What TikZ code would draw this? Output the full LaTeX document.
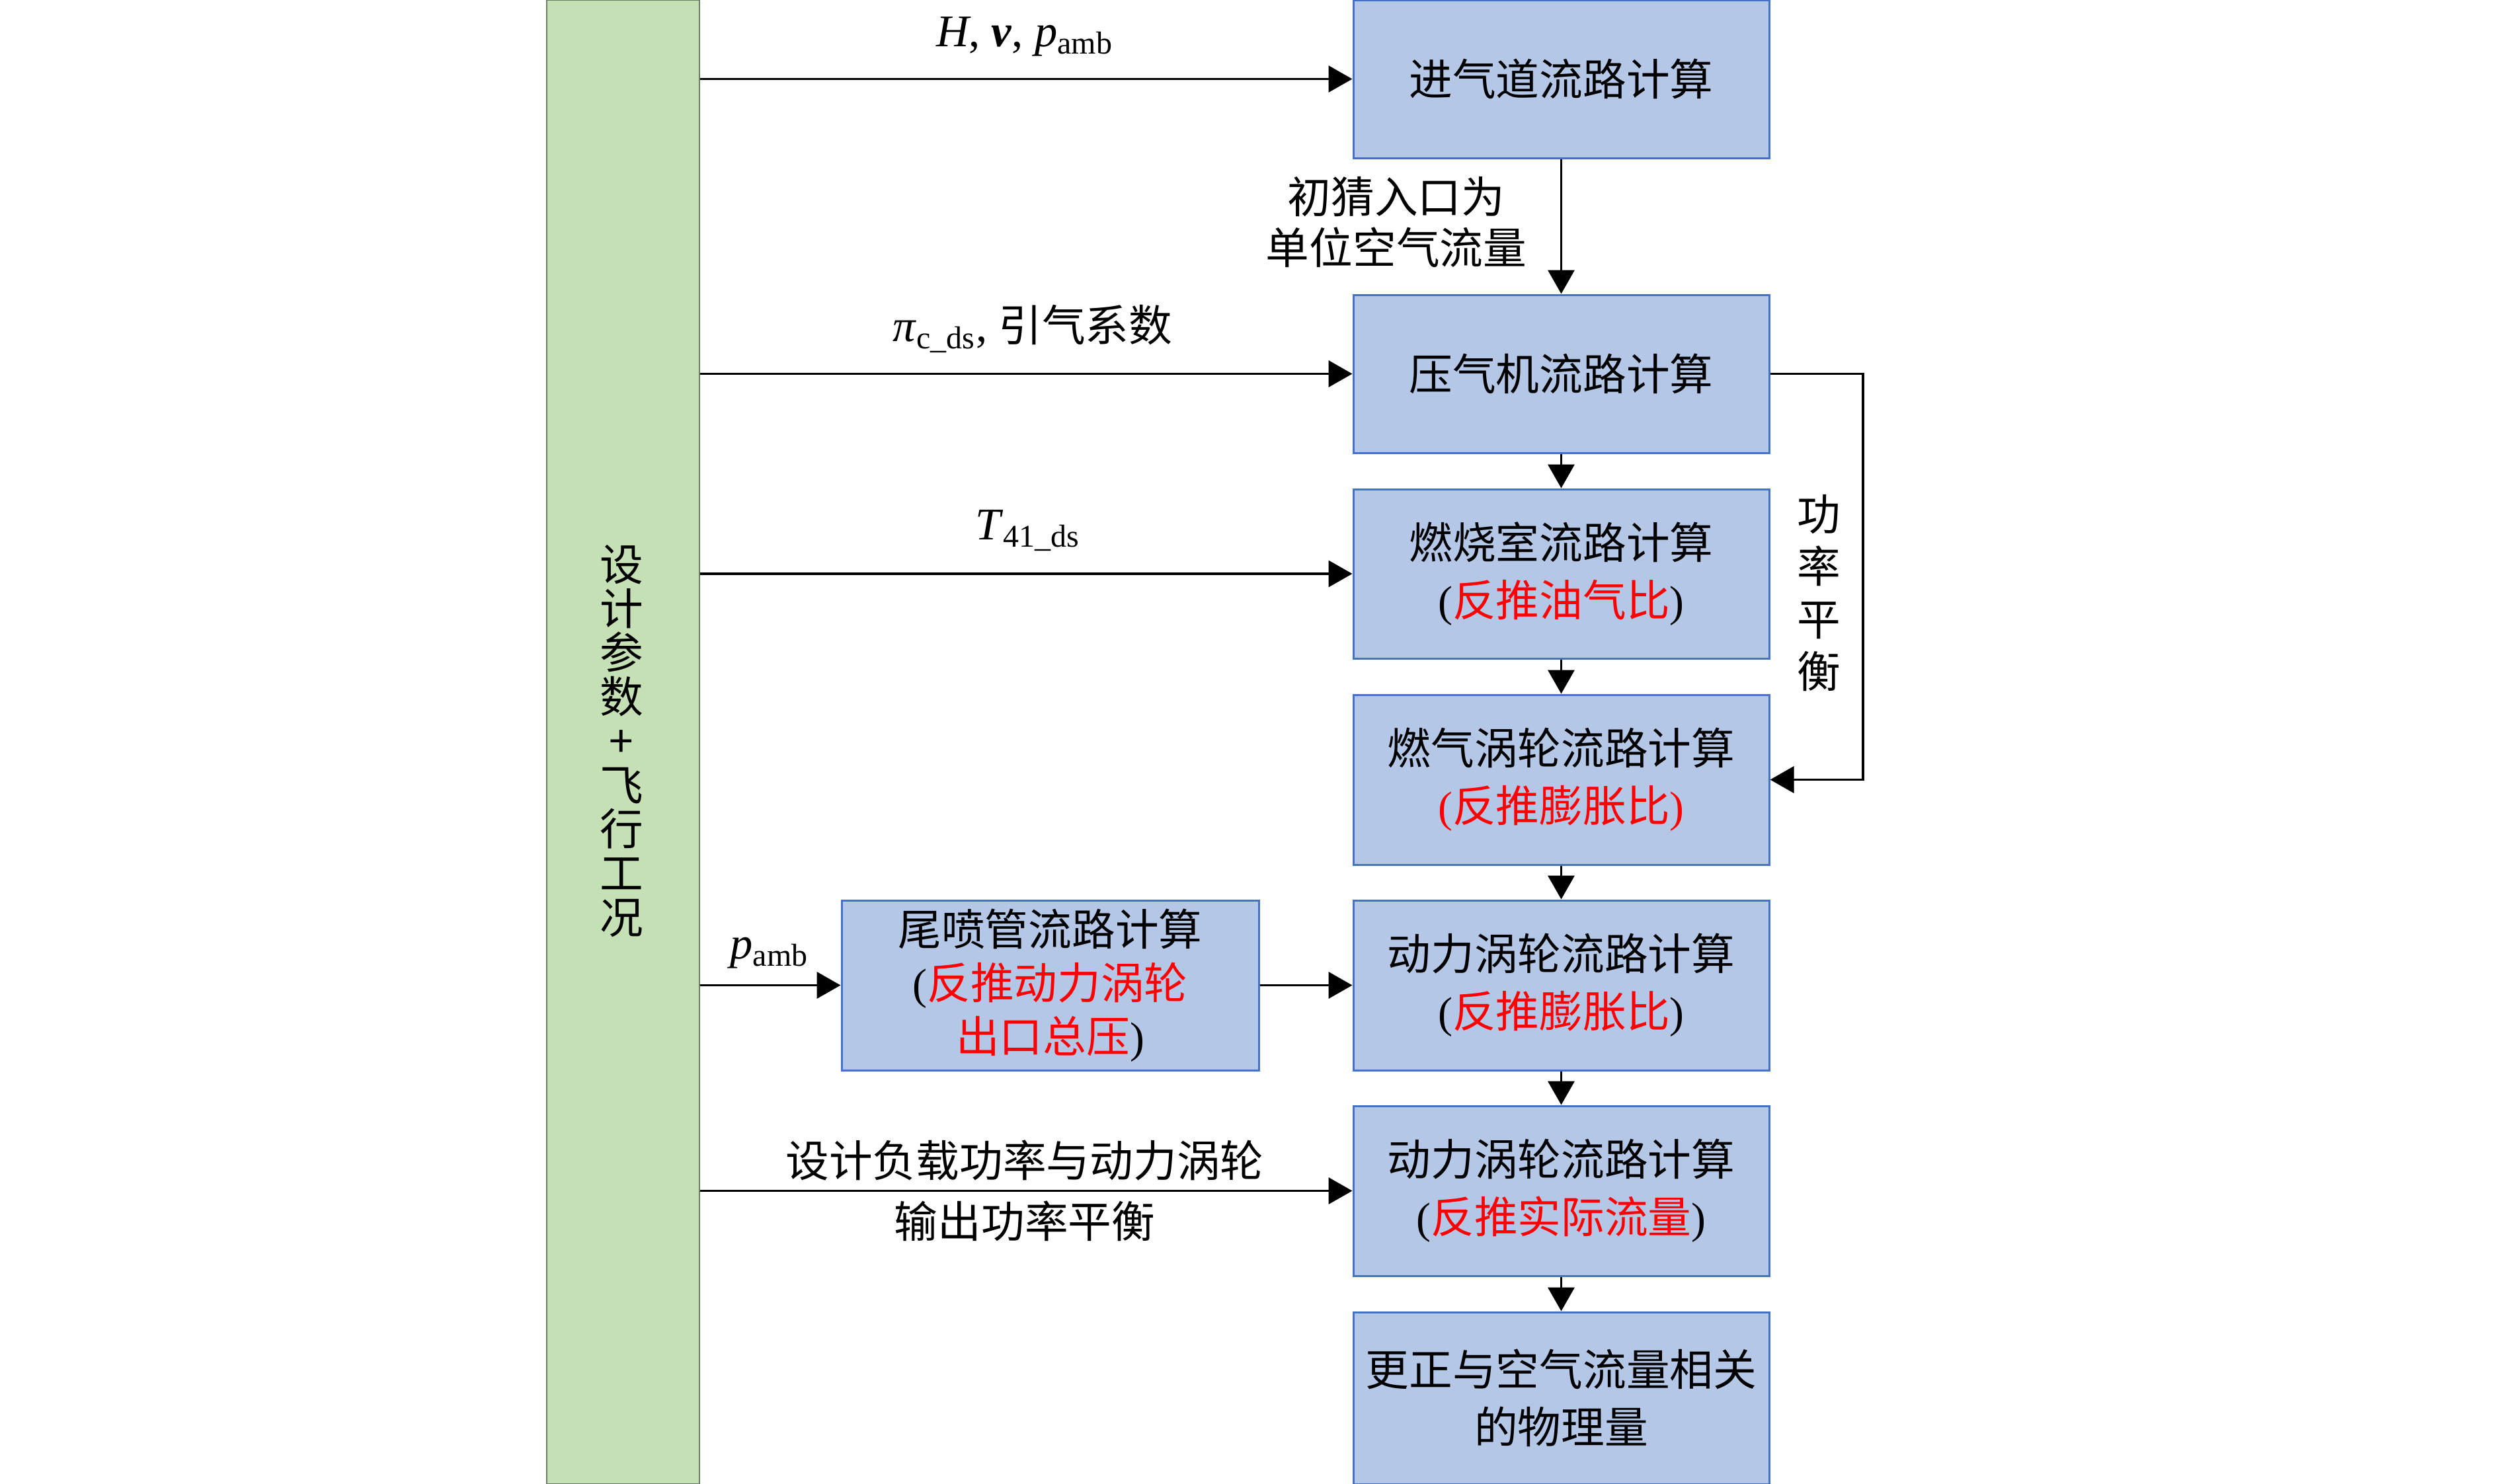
\documentclass[tikz,border=0pt]{standalone}
\usepackage{fontspec}
\setmainfont{Liberation Serif}
\newfontfamily\cjk{Noto Sans CJK SC}
\usetikzlibrary{arrows.meta,positioning}
\definecolor{boxfill}{HTML}{B4C7E7}
\definecolor{boxdraw}{HTML}{4472C4}
\definecolor{greenfill}{HTML}{C5E0B4}
\definecolor{greendraw}{HTML}{6E7B66}
\newcommand{\rd}[1]{\textcolor{red}{#1}}
\newcommand{\lpar}{{\rmfamily(}}
\newcommand{\rpar}{{\rmfamily)}}
\tikzset{
  calcbox/.style={draw=boxdraw, line width=0.85pt, fill=boxfill, align=center, inner sep=0pt,
    font=\cjk\fontsize{18.7}{24.7}\selectfont},
  lbl/.style={align=center, inner sep=0pt, font=\cjk\fontsize{18.7}{26}\selectfont},
  conn/.style={line width=1.1pt, -{Triangle[length=0.36cm,width=0.40cm]}}
}
\begin{document}
\begin{tikzpicture}
\useasboundingbox (0,0) rectangle (37.8,-22.45);
% green bar
\node[draw=greendraw, line width=0.5pt, fill=greenfill, minimum width=2.31cm, minimum height=22.45cm, inner sep=0pt] (param) at (9.425,-11.225) {};
\node[lbl, font=\cjk\fontsize{18.7}{19.0}\selectfont] (paramtxt) at (9.40,-11.21) {设\\计\\参\\数\\+\\飞\\行\\工\\况};
% right column boxes
\node[calcbox, minimum width=6.29cm, minimum height=2.39cm] (b1) at (23.615,-1.195) {进气道流路计算};
\node[calcbox, minimum width=6.29cm, minimum height=2.39cm] (b2) at (23.615,-5.655) {压气机流路计算};
\node[calcbox, minimum width=6.29cm, minimum height=2.56cm] (b3) at (23.615,-8.68) {燃烧室流路计算\\\lpar\rd{反推油气比}\rpar};
\node[calcbox, minimum width=6.29cm, minimum height=2.57cm] (b4) at (23.615,-11.795) {燃气涡轮流路计算\\\rd{\lpar 反推膨胀比\rpar}};
\node[calcbox, minimum width=6.29cm, minimum height=2.57cm] (b5) at (23.615,-14.905) {动力涡轮流路计算\\\lpar\rd{反推膨胀比}\rpar};
\node[calcbox, minimum width=6.29cm, minimum height=2.57cm] (b6) at (23.615,-18.015) {动力涡轮流路计算\\\lpar\rd{反推实际流量}\rpar};
\node[calcbox, minimum width=6.29cm, minimum height=2.60cm] (b7) at (23.615,-21.15) {更正与空气流量相关\\的物理量};
\node[calcbox, minimum width=6.31cm, minimum height=2.57cm, font=\cjk\fontsize{18.7}{23}\selectfont] (nz) at (15.885,-14.905) {尾喷管流路计算\\\lpar\rd{反推动力涡轮}\\\rd{出口总压}\rpar};
% horizontal input arrows
\draw[conn] (param.east |- b1) -- (b1.west);
\draw[conn] (param.east |- b2) -- (b2.west);
\draw[conn] (param.east |- b3) -- (b3.west);
\draw[conn] (param.east |- nz) -- (nz.west);
\draw[conn] (nz.east) -- (b5.west);
\draw[conn] (param.east |- b6) -- (b6.west);
% vertical arrows
\draw[conn] (b1.south) -- (b2.north);
\draw[conn] (b2.south) -- (b3.north);
\draw[conn] (b3.south) -- (b4.north);
\draw[conn] (b4.south) -- (b5.north);
\draw[conn] (b5.south) -- (b6.north);
\draw[conn] (b6.south) -- (b7.north);
% power balance loop
\coordinate (pb) at (28.18,-5.655);
\draw[conn] (b2.east) -- (pb) |- (b4.east);
\node[lbl, font=\cjk\fontsize{18.7}{22.6}\selectfont] (pbtxt) at (27.51,-8.97) {功\\率\\平\\衡};
% labels
\node[lbl, font=\fontsize{19.5}{24}\selectfont] (l1) at (15.5,-0.55) {\textit{H}, \textbf{\textit{v}}, \textit{p}\textsubscript{amb}};
\node[lbl] (l2) at (15.62,-4.97) {{\rmfamily\fontsize{19.5}{24}\selectfont\textit{π}\textsubscript{c\_ds}, }引气系数};
\node[lbl, font=\fontsize{19.5}{24}\selectfont] (l3) at (15.55,-8.03) {\textit{T}\textsubscript{41\_ds}};
\node[lbl, font=\fontsize{19.5}{24}\selectfont] (l4) at (11.64,-14.42) {\textit{p}\textsubscript{amb}};
\node[lbl, font=\cjk\fontsize{18.7}{26.2}\selectfont] (l5) at (15.5,-18.01) {设计负载功率与动力涡轮\\输出功率平衡};
\node[lbl, font=\cjk\fontsize{18.7}{22}\selectfont] (l6) at (21.12,-3.36) {初猜入口为\\单位空气流量};
\end{tikzpicture}
\end{document}
